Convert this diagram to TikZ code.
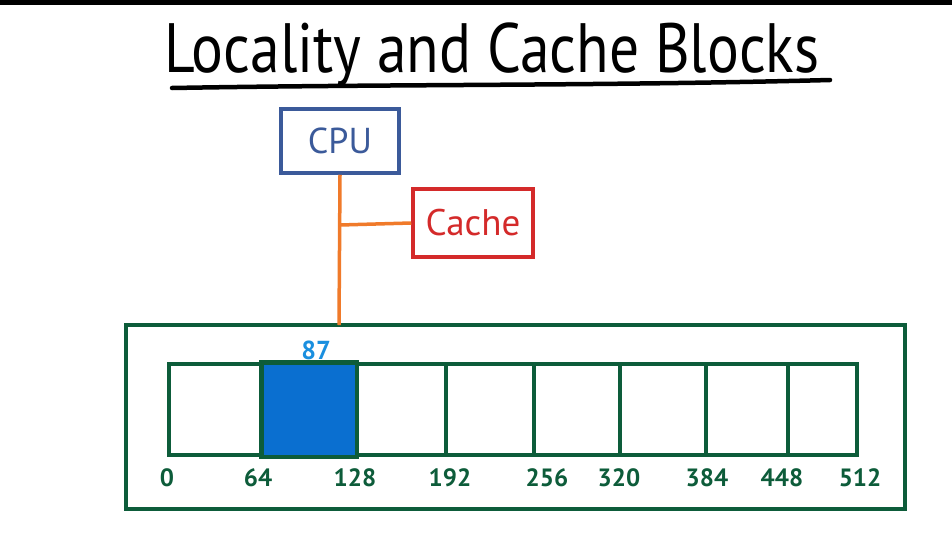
\documentclass[tikz,border=0pt]{standalone}
\usepackage{fontspec}
\usepackage{graphicx}
\setmainfont{PT Sans}
\definecolor{cpublue}{HTML}{3B5A9A}
\definecolor{cachered}{HTML}{D42A2A}
\definecolor{busorange}{HTML}{F07A2A}
\definecolor{memgreen}{HTML}{0D5C3A}
\definecolor{blockblue}{HTML}{0A6FD0}
\definecolor{addrblue}{HTML}{1A8FDF}
\begin{document}
\begin{tikzpicture}[x=1pt,y=-1pt,
  cpubox/.style={draw=cpublue,line width=3.5pt,text=cpublue,inner sep=0pt},
  cachebox/.style={draw=cachered,line width=3.5pt,text=cachered,inner sep=0pt},
  bus/.style={draw=busorange,line width=3.5pt},
  cell/.style={draw=memgreen,line width=3.5pt},
  addr/.style={text=memgreen,font=\fontsize{25}{25}\selectfont\bfseries,inner sep=0pt}]
\useasboundingbox (0,0) rectangle (952,546);
\fill[white] (0,0) rectangle (952,546);
\fill[black] (0,0) rectangle (952,5);
% title
\node[inner sep=0pt,anchor=base] (title) at (492,72) {\resizebox*{655pt}{64pt}{\fontsize{60}{60}\selectfont Locality and Cache Blocks}};
\draw[line width=4.5pt,line cap=round] (172,88) .. controls (400,84) and (600,86) .. (830,80);
% CPU and cache
\node[cpubox,minimum width=118pt,minimum height=64pt,font=\fontsize{36}{36}\selectfont] (cpu) at (340,141) {CPU};
\node[cachebox,minimum width=120pt,minimum height=68pt,font=\fontsize{37}{37}\selectfont] (cache) at (473,223) {Cache};
% memory
\node[draw=memgreen,line width=3.5pt,minimum width=779pt,minimum height=184pt,inner sep=0pt] (mem) at (515.5,417) {};
\coordinate (busB) at (339,325);
\coordinate (busJ) at (340,225);
\draw[bus] (cpu.south) -- (busB);
\draw[bus] (busJ) -- (cache.west);
% cells
\foreach \a/\b/\n in {169/263/c1,263/355/c2,355/446/c3,446/534/c4,534/620/c5,620/706/c6,706/788/c7,788/857/c8}{
  \node[cell,minimum width={\b-\a},minimum height=91pt,inner sep=0pt] (\n) at ({(\a+\b)/2},409.5) {};
}
\fill[blockblue] (c2.north west) rectangle (c2.south east);
\draw[cell,line width=4.5pt] (c2.north west) rectangle (c2.south east);
\node[text=addrblue,font=\fontsize{26}{26}\selectfont\bfseries,inner sep=0pt] (a87) at (316,350) {87};
% addresses
\foreach \x/\t/\n in {167/0/l0,258/64/l1,355/128/l2,450/192/l3,547/256/l4,619/320/l5,707/384/l6,782/448/l7,860/512/l8}{
  \node[addr] (\n) at (\x,478) {\t};
}
\end{tikzpicture}
\end{document}
